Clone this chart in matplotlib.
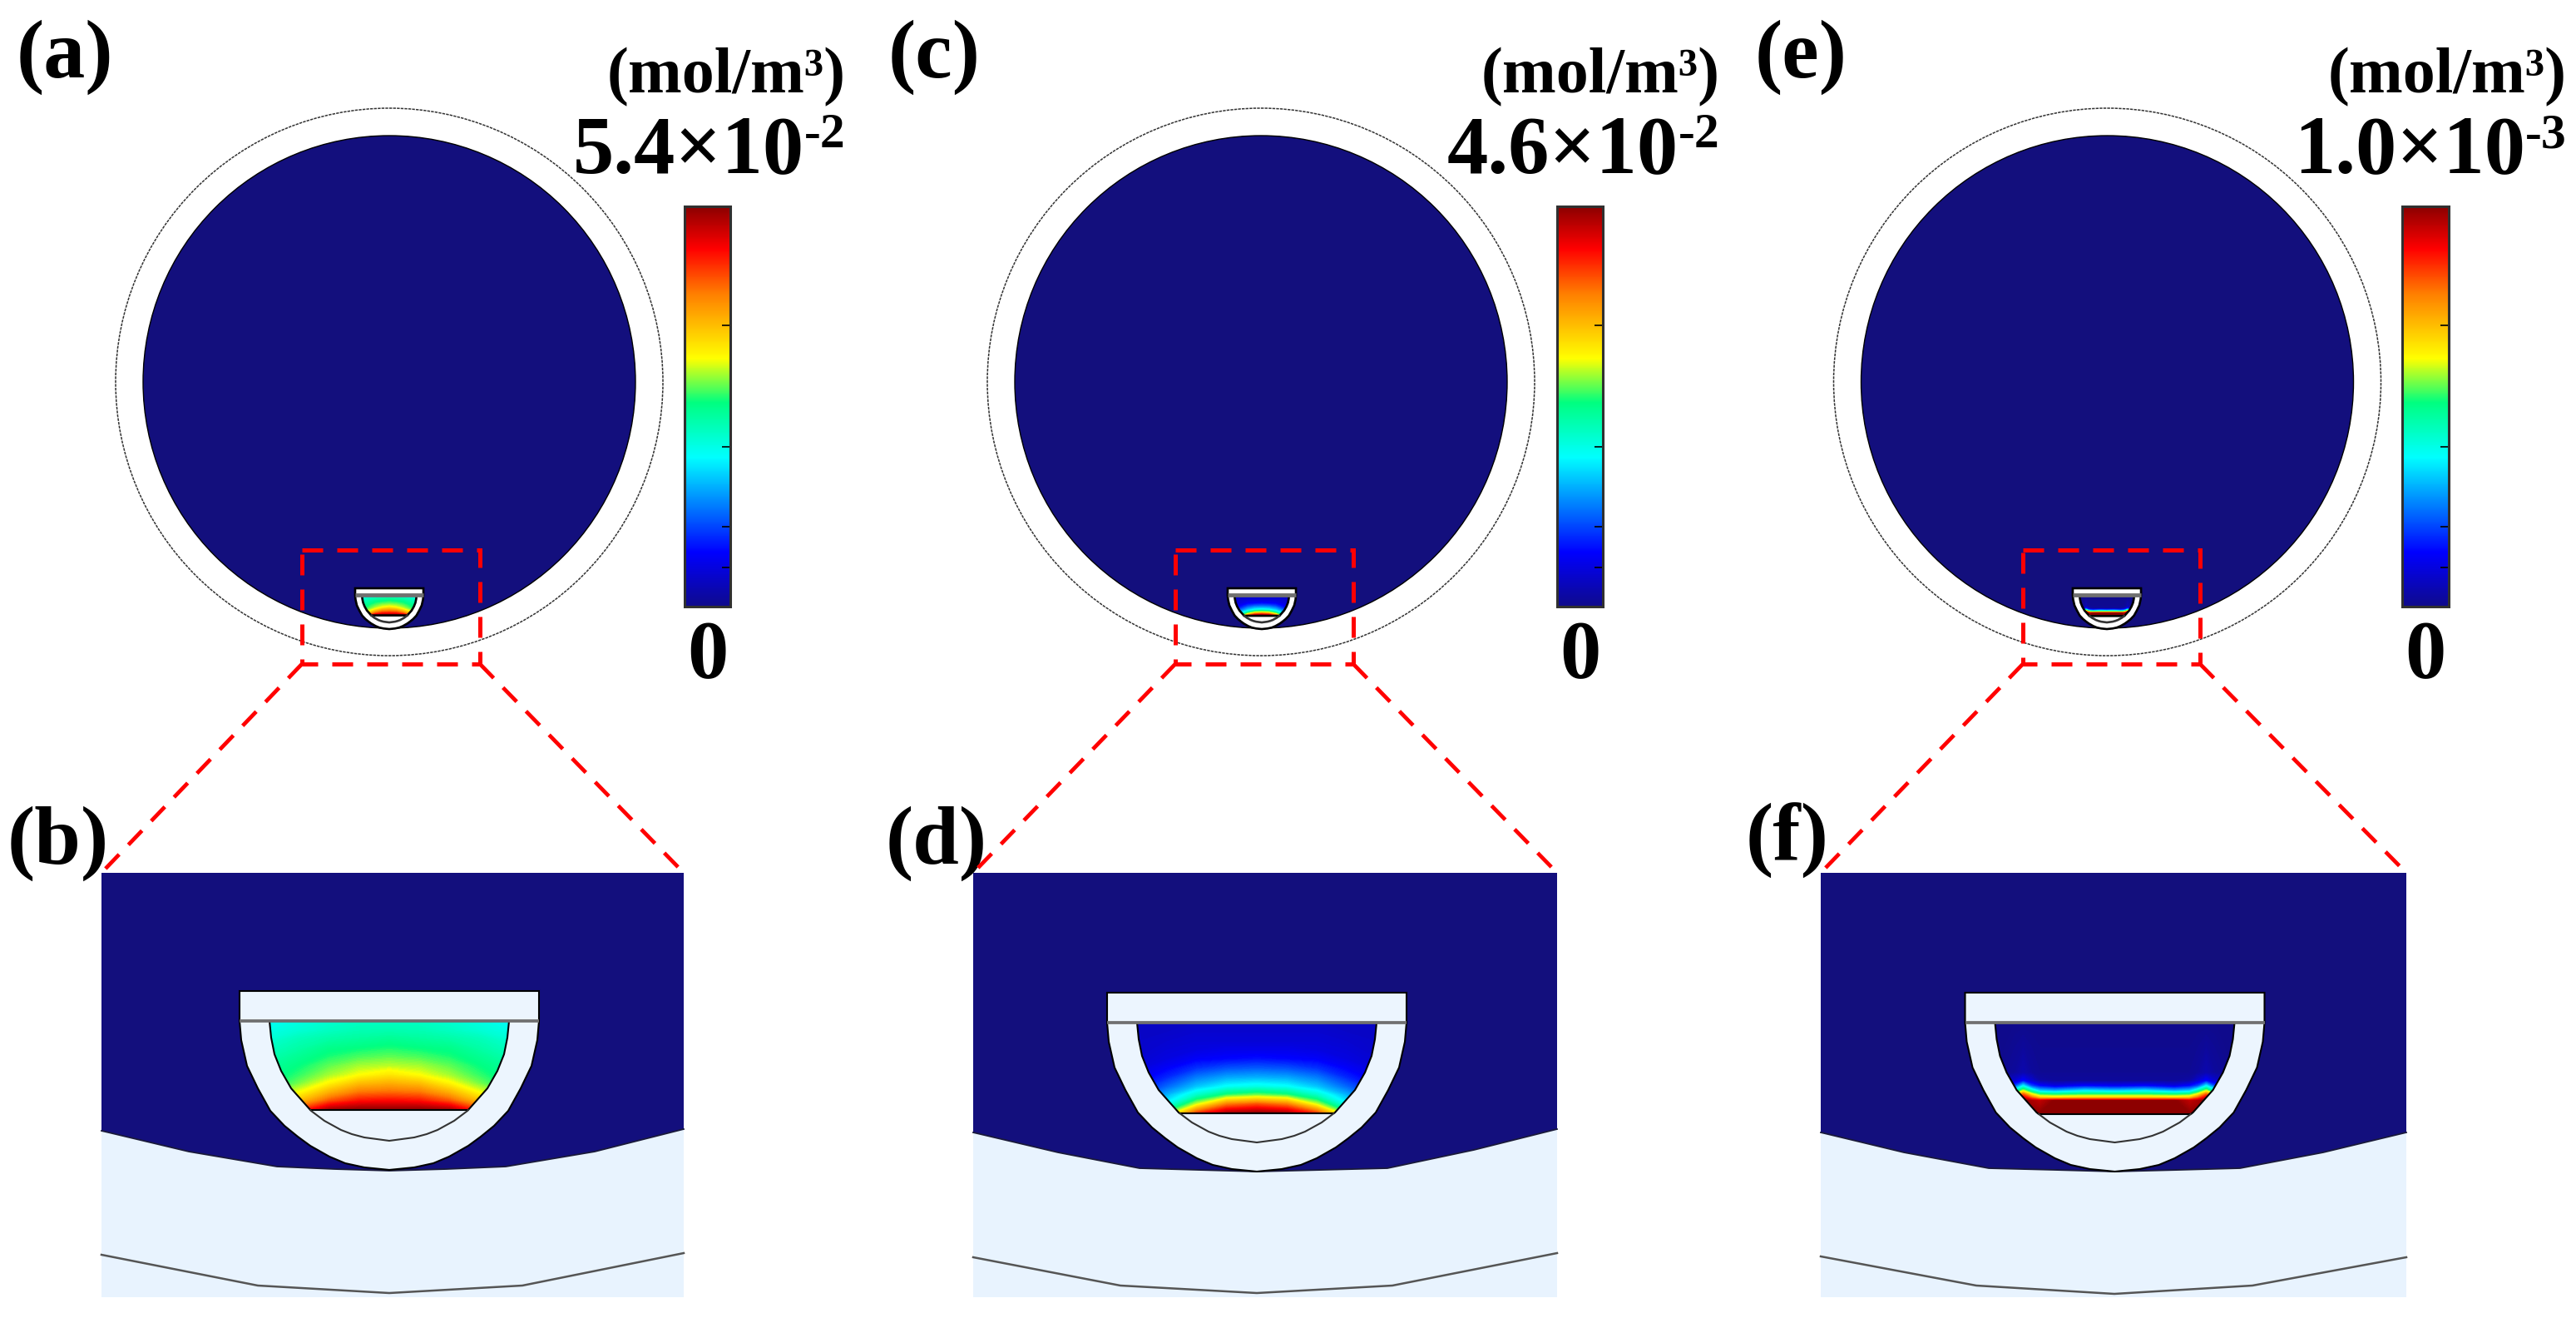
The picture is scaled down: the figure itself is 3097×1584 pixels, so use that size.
import numpy as np
import matplotlib
matplotlib.use('Agg')
import matplotlib.pyplot as plt
from matplotlib.colors import LinearSegmentedColormap, Normalize
from matplotlib.cm import ScalarMappable
from matplotlib.patches import Circle, Polygon, Rectangle
from matplotlib.path import Path
from matplotlib.ticker import NullFormatter

W, H = 3097, 1584

NAVY = '#130F7D'
PALE = '#E8F3FE'
PALE_DOME = '#ECF5FE'
RED = '#FF0000'

# colour scale
cmap_pos = [0, 0.135, 0.373, 0.51, 0.62, 0.78, 0.894, 1]
cmap_col = ['#0F0A8C', '#0000FF', '#00FFFF', '#00FF80', '#FFFF00', '#FF8000', '#FF0000', '#8B0000']
cbar_ticks = [0.098, 0.2, 0.4, 0.703]

# top row
labels_top = ['(a)', '(c)', '(e)']
labels_top_x = [20, 1068, 2110]
labels_bot = ['(b)', '(d)', '(f)']
labels_bot_x = [9, 1065, 2099]
labels_bot_y = [1038, 1038, 1035]
mantissa = ['5.4×10', '4.6×10', '1.0×10']
exponent = ['-2', '-2', '-3']
text_right = [1017, 2068, 3086]
unit = '(mol/m³)'

disc_x = [468, 1516, 2533.5]
dome_top_x = [468, 1517, 2533]
rect_x0 = [363, 1413, 2432]
rect_x1 = [577, 1627, 2645]
cbar_x0 = [823, 1872, 2888]
cbar_x1 = [878, 1927, 2944]

# bottom row
zoom_x0 = [122, 1170, 2189]
zoom_x1 = [822, 1872, 2893]
dome_bot_x = [468, 1511, 2542.5]
dome_bot_top = [1191, 1193, 1193]
edge_x = [[122, 227, 333, 402, 468, 537, 608, 715, 822],
          [1170, 1272, 1370, 1440, 1511, 1590, 1668, 1772, 1872],
          [2189, 2289, 2391, 2470, 2542, 2620, 2693, 2793, 2893]]
edge_y = [[1359, 1384, 1402, 1405, 1407, 1405, 1402, 1384, 1357],
          [1361, 1385, 1404, 1406, 1408, 1406, 1404, 1382, 1357],
          [1361, 1385, 1404, 1406, 1408, 1406, 1404, 1385, 1361]]
line_x = [[122, 310, 468, 628, 822], [1170, 1347, 1511, 1674, 1872], [2189, 2376, 2542, 2708, 2893]]
line_y = [[1508, 1545, 1554, 1545, 1506], [1511, 1545, 1554, 1545, 1506], [1510, 1545, 1555, 1545, 1511]]

# dome outlines as measured in the zoomed panels, below the cover band
outer_dy = [0, 23, 54, 81, 108, 126, 139, 150, 163, 171, 176, 179]
outer_dx = [180, 178, 171, 158, 143, 126, 110, 95, 72, 53, 30, 0]
inner_dy = [0, 20, 40, 60, 81, 108, 120, 131, 136, 140, 144]
inner_dx = [144, 142, 138, 130, 118, 94, 78, 58, 45, 30, 0]

# concentration inside the dome, fraction of the colour bar.
# columns: distance from the middle, rows: height above the electrode
chord = [143, 145, 146]
dx_b = [0, 36, 72, 108, 144]
dy_b = [110, 95, 85, 74, 64, 53, 42, 32, 21, 11, 0]
field_b = [[.43, .43, .42, .40, .38],
           [.46, .455, .44, .42, .40],
           [.49, .48, .47, .45, .42],
           [.52, .51, .50, .47, .44],
           [.55, .54, .52, .49, .46],
           [.59, .58, .55, .51, .48],
           [.65, .62, .58, .53, .49],
           [.72, .70, .63, .56, .50],
           [.80, .79, .72, .62, .55],
           [.89, .88, .82, .70, .60],
           [1.0, 1.0, .98, .85, .70]]
dx_d = [0, 36, 72, 108, 144]
dy_d = [110, 97, 86, 76, 65, 54, 43, 32, 22, 11, 0]
field_d = [[.07, .07, .07, .07, .06],
           [.08, .08, .08, .07, .07],
           [.09, .09, .09, .08, .07],
           [.11, .11, .10, .09, .07],
           [.15, .14, .13, .10, .08],
           [.22, .21, .18, .13, .09],
           [.30, .29, .25, .17, .11],
           [.40, .38, .32, .23, .14],
           [.56, .53, .43, .30, .18],
           [.82, .78, .60, .38, .22],
           [1.0, .98, .85, .55, .30]]
dx_f = [0, 36, 72, 90, 100, 110, 120, 144]
dy_f = [110, 50, 40, 34, 28, 24, 20, 16, 0]
field_f = [[0, 0, 0, 0, 0, 0, 0, 0],
           [.01, .01, .01, .01, .02, .04, .02, 0],
           [.02, .02, .02, .03, .08, .14, .08, .03],
           [.12, .14, .10, .14, .20, .36, .20, .05],
           [.33, .36, .30, .33, .45, .60, .42, .10],
           [.52, .52, .50, .52, .62, .80, .62, .10],
           [.68, .68, .66, .68, .80, .92, .80, .10],
           [1.0, 1.0, 1.0, .95, .97, 1.0, 1.0, .10],
           [1.0, 1.0, 1.0, 1.0, 1.0, 1.0, 1.0, 1.0]]
dx_all = [dx_b, dx_d, dx_f]
dy_all = [dy_b, dy_d, dy_f]
field_all = [field_b, field_d, field_f]

cmap = LinearSegmentedColormap.from_list('conc', list(zip(cmap_pos, cmap_col)), N=512)
norm = Normalize(0, 1)

plt.rcParams['font.family'] = 'Liberation Serif'
plt.rcParams['font.weight'] = 'bold'

fig = plt.figure(figsize=(W / 100, H / 100), dpi=100)
ax = fig.add_axes([0, 0, 1, 1])
ax.set_xlim(0, W)
ax.set_ylim(H, 0)
ax.axis('off')


def draw_dome(cx, ytop, s, chord_y, dx, dy, field, fill, lw):
    # dome sizes are those of the zoomed panel, s scales them down
    band = 36
    yb = ytop + band * s
    ody = np.array(outer_dy, float)
    odx = np.array(outer_dx, float)
    xo = np.r_[cx + odx * s, cx - odx[-2::-1] * s]
    yo = np.r_[yb + ody * s, yb + ody[-2::-1] * s]
    ax.add_patch(Polygon(np.r_[[[cx - odx[0] * s, ytop], [cx + odx[0] * s, ytop]], np.c_[xo, yo]],
                         closed=True, fc=fill, ec='black', lw=lw, zorder=3))
    # inner part above the electrode
    idy = np.array(inner_dy, float)
    idx = np.array(inner_dx, float)
    cy = chord_y - band
    half = np.interp(cy, idy, idx)
    keep = idy < cy
    right = np.c_[np.r_[idx[keep], half], np.r_[idy[keep], cy]]
    outline = np.r_[np.c_[cx + right[:, 0] * s, yb + right[:, 1] * s],
                    np.c_[cx - right[::-1, 0] * s, yb + right[::-1, 1] * s]]
    ych = yb + cy * s
    # field
    dx = np.array(dx, float)
    z = np.array(field, float)
    xs = np.r_[cx - dx[::-1] * s, cx + dx[1:] * s]
    ys = ych - np.array(dy, float) * s
    zz = np.c_[z[:, ::-1], z[:, 1:]]
    cs = ax.contourf(xs, ys, zz, levels=np.linspace(0, 1, 201), cmap=cmap, norm=norm,
                     extend='both', zorder=4)
    cs.set_clip_path(Path(np.r_[outline, outline[:1]], closed=True), ax.transData)
    ax.add_patch(Polygon(outline, closed=True, fc='none', ec='black', lw=lw, zorder=5))
    # lower arc under the electrode
    low = idy >= cy
    xl = np.r_[half, idx[low], -idx[low][-2::-1], -half]
    yl = np.r_[cy, idy[low], idy[low][-2::-1], cy]
    ax.plot(cx + xl * s, yb + yl * s, color='#333333', lw=lw, zorder=5)
    ax.plot([cx - odx[0] * s, cx + odx[0] * s], [yb, yb], color='#707070', lw=lw * 1.8, zorder=5,
            solid_capstyle='butt')


dash = (0, (5, 3.4))
for i in range(3):
    # upper panel
    ax.add_patch(Circle((disc_x[i], 459), 329, fc='white', ec='#333333', lw=1.1,
                        ls=(0, (2.2, 0.8)), zorder=1))
    ax.add_patch(Circle((disc_x[i], 459), 296, fc=NAVY, ec='black', lw=1.0, zorder=2))
    draw_dome(dome_top_x[i], 707, 0.228, chord[i], dx_all[i], dy_all[i], field_all[i], 'white', 1.9)
    ax.add_patch(Rectangle((rect_x0[i], 661), rect_x1[i] - rect_x0[i], 137, fc='none', ec=RED,
                           lw=3.6, ls=dash, zorder=6))

    # colour bar
    cax = fig.add_axes([cbar_x0[i] / W, 1 - 729 / H, (cbar_x1[i] - cbar_x0[i]) / W, 481 / H])
    cb = fig.colorbar(ScalarMappable(norm=norm, cmap=cmap), cax=cax, ticks=cbar_ticks,
                      format=NullFormatter())
    cb.outline.set_edgecolor('#303030')
    cb.outline.set_linewidth(2.2)
    cax.yaxis.set_ticks_position('both')
    cax.tick_params(which='major', direction='in', length=7, width=1.2, color='black')
    ax.text((cbar_x0[i] + cbar_x1[i]) / 2, 814, '0', fontsize=71, ha='center', va='baseline')

    # texts
    ax.text(text_right[i], 111, unit, fontsize=56, ha='right', va='baseline')
    ax.text(text_right[i] - 50, 207, mantissa[i], fontsize=71, ha='right', va='baseline')
    ax.text(text_right[i] - 50, 177, exponent[i], fontsize=43, ha='left', va='baseline')
    ax.text(labels_top_x[i], 93, labels_top[i], fontsize=72, ha='left', va='baseline')
    ax.text(labels_bot_x[i], labels_bot_y[i], labels_bot[i], fontsize=72, ha='left', va='baseline')

    # zoomed panel
    x0, x1 = zoom_x0[i], zoom_x1[i]
    ax.add_patch(Rectangle((x0, 1049), x1 - x0, 510, fc=PALE, ec='none', zorder=1))
    ax.add_patch(Polygon([(x0, 1049), (x1, 1049)] + list(zip(edge_x[i][::-1], edge_y[i][::-1])),
                         closed=True, fc=NAVY, ec='none', zorder=2))
    ax.plot(edge_x[i], edge_y[i], color='#1a1a3a', lw=1.3, zorder=2)
    ax.plot(line_x[i], line_y[i], color='#555555', lw=1.8, zorder=2)
    draw_dome(dome_bot_x[i], dome_bot_top[i], 1, chord[i], dx_all[i], dy_all[i], field_all[i], PALE_DOME, 1.5)

    # lines from the small box to the zoomed panel
    ax.plot([rect_x0[i], x0], [798, 1049], color=RED, lw=3.4, ls=dash, zorder=6)
    ax.plot([rect_x1[i], x1], [798, 1049], color=RED, lw=3.4, ls=dash, zorder=6)

fig.savefig('out.png', dpi=100, facecolor='white')
